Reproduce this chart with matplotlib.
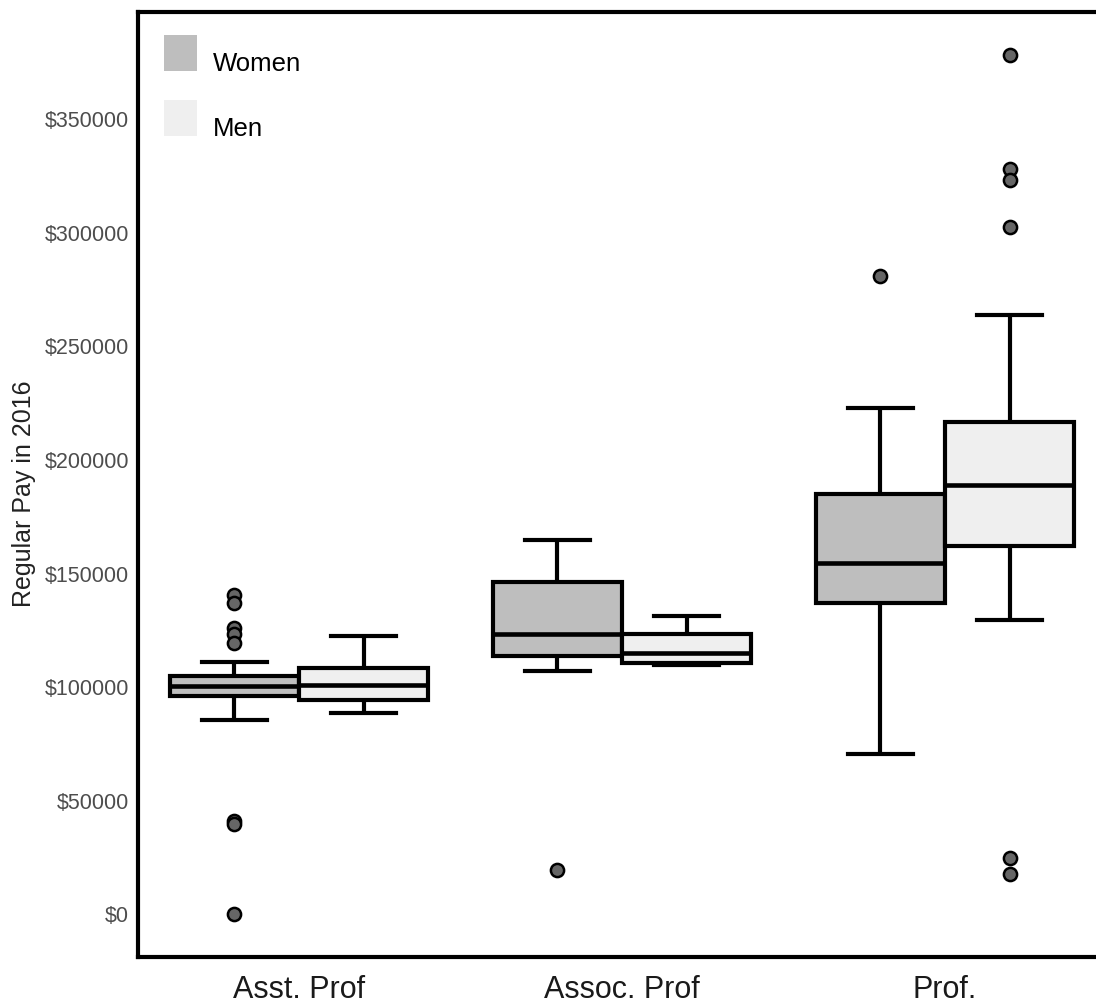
import matplotlib
matplotlib.use("Agg")
import matplotlib.pyplot as plt
from matplotlib.patches import Patch
from matplotlib.transforms import Affine2D

plt.rcParams['font.family'] = ['Liberation Sans', 'DejaVu Sans']

# Rank categories and the two groups compared within each rank
ranks = ["Asst. Prof", "Assoc. Prof", "Prof."]
groups = ["Women", "Men"]
group_colors = ["#bebebe", "#efefef"]

# Five-number summaries (whisker low, Q1, median, Q3, whisker high) per rank
women_whislo = [85700, 106900, 70400]
women_q1 = [96000, 113600, 137100]
women_med = [100300, 123200, 154800]
women_q3 = [104900, 146300, 185000]
women_whishi = [111000, 164800, 222900]
women_fliers = [
    [140500, 137100, 126100, 123200, 119400, 41100, 39800, 0],
    [19400],
    [280900],
]

men_whislo = [88500, 109900, 129500]
men_q1 = [94100, 110600, 162300]
men_med = [101100, 115000, 189100]
men_q3 = [108400, 123400, 216700]
men_whishi = [122400, 131100, 263700]
men_fliers = [
    [],
    [],
    [378400, 328300, 323200, 302800, 24600, 17800],
]

yticks = [0, 50000, 100000, 150000, 200000, 250000, 300000, 350000]


def make_stats(lo, q1, med, q3, hi, fliers):
    return [dict(whislo=a, q1=b, med=c, q3=d, whishi=e, fliers=f)
            for a, b, c, d, e, f in zip(lo, q1, med, q3, hi, fliers)]


stats = {
    "Women": make_stats(women_whislo, women_q1, women_med, women_q3,
                        women_whishi, women_fliers),
    "Men": make_stats(men_whislo, men_q1, men_med, men_q3,
                      men_whishi, men_fliers),
}

fig = plt.figure(figsize=(10.96, 10.05), dpi=100)
ax = fig.add_axes([137.5 / 1096, 1 - 957 / 1005, 969 / 1096, 945 / 1005])

dodge = 0.2
box_w = 0.4
lw = 3.0
for gi, (name, color) in enumerate(zip(groups, group_colors)):
    offset = -dodge if gi == 0 else dodge
    pos = [i + 1 + offset for i in range(len(ranks))]
    ax.bxp(
        stats[name], positions=pos, widths=box_w, capwidths=box_w / 2,
        patch_artist=True, showfliers=True,
        boxprops=dict(facecolor=color, edgecolor="black", linewidth=lw),
        whiskerprops=dict(color="black", linewidth=lw, solid_capstyle="butt"),
        capprops=dict(color="black", linewidth=lw),
        medianprops=dict(color="black", linewidth=lw + 0.3),
        flierprops=dict(marker="o", markerfacecolor="#666666",
                        markeredgecolor="black", markersize=9.5,
                        markeredgewidth=1.8, linestyle="none"),
        manage_ticks=False,
    )

ax.set_xlim(0.5, 3.5)
ax.set_ylim(-18900, 397300)
ax.set_xticks(range(1, len(ranks) + 1))
ax.set_xticklabels(ranks)
ax.set_yticks(yticks)
ax.set_yticklabels([f"${v}" for v in yticks])
ax.tick_params(axis="both", length=0)
ax.tick_params(axis="y", labelsize=15.5, labelcolor="#4d4d4d", pad=6)
ax.tick_params(axis="x", labelsize=22, labelcolor="#1a1a1a", pad=13)

for side in ["left", "top", "bottom", "right"]:
    ax.spines[side].set_linewidth(3)
    ax.spines[side].set_color("black")

ax.set_ylabel("Regular Pay in 2016", fontsize=18, color="#222222")
ax.yaxis.set_label_coords(-0.105, 0.49)

handles = [Patch(facecolor=c, edgecolor="none", label=g)
           for g, c in zip(groups, group_colors)]
leg = ax.legend(handles=handles, loc="upper left",
                bbox_to_anchor=(26 / 969, 1 - 23 / 945),
                frameon=False, fontsize=18.5, handlelength=1.32,
                handleheight=1.75, handletextpad=0.6, labelspacing=1.15,
                borderpad=0, borderaxespad=0)
# legend labels sit slightly below the centre of their keys
for t in leg.get_texts():
    t.set_transform(t.get_transform() + Affine2D().translate(0, -10))

fig.savefig("out.png", dpi=100)
